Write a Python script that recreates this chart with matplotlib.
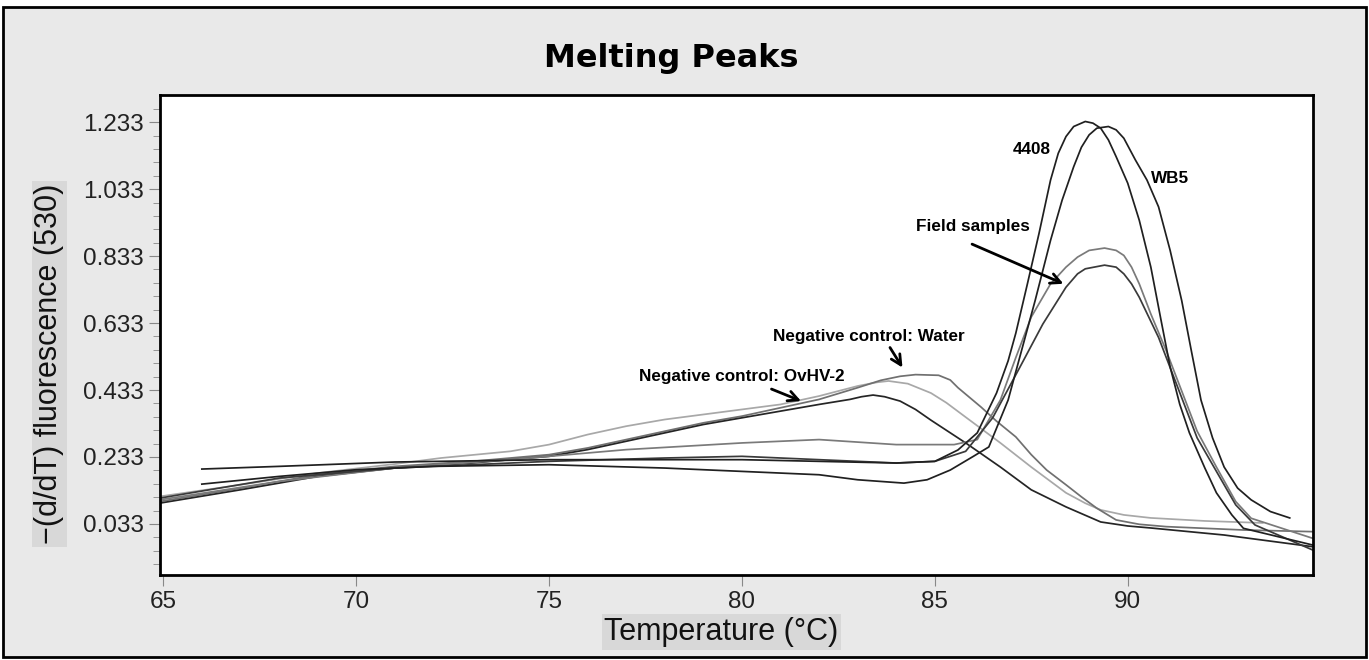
import numpy as np
import matplotlib.pyplot as plt
from matplotlib.patches import Rectangle

# melting peak curves (temperature, -(d/dT) fluorescence)
water_t = [64.9, 67, 69, 71, 73, 75, 76, 77, 78, 79, 80, 81, 82, 83, 83.6, 84.1, 84.5, 85.1, 85.4, 85.6, 86.2, 86.6, 87.1, 87.5, 87.9, 88.4, 88.8, 89.2, 89.7, 90.3, 91, 93, 94.8]
water_y = [0.10, 0.14, 0.18, 0.205, 0.22, 0.24, 0.26, 0.285, 0.31, 0.335, 0.355, 0.38, 0.405, 0.44, 0.462, 0.474, 0.479, 0.477, 0.463, 0.44, 0.382, 0.34, 0.293, 0.24, 0.194, 0.15, 0.114, 0.08, 0.045, 0.032, 0.025, 0.015, 0.01]

light_t = [64.9, 67, 69, 71, 72.2, 74, 75, 76, 77, 78, 79, 80, 81, 82, 83, 83.5, 83.8, 84.3, 84.9, 85.3, 85.8, 86.7, 87.5, 88.4, 88.9, 89.3, 89.9, 90.6, 92, 93.5]
light_y = [0.115, 0.15, 0.185, 0.212, 0.23, 0.25, 0.27, 0.30, 0.325, 0.345, 0.36, 0.375, 0.39, 0.415, 0.445, 0.456, 0.46, 0.452, 0.424, 0.395, 0.352, 0.275, 0.203, 0.126, 0.095, 0.075, 0.06, 0.051, 0.042, 0.036]

ovhv_t = [64.9, 67, 69, 71, 73, 75, 76, 77, 78, 79, 80, 81, 82, 82.8, 83.1, 83.4, 83.7, 84.1, 84.5, 84.9, 85.8, 86.7, 87.5, 88.4, 89.3, 90.0, 90.6, 92.5, 94.8]
ovhv_y = [0.095, 0.135, 0.175, 0.20, 0.215, 0.235, 0.255, 0.28, 0.305, 0.33, 0.35, 0.37, 0.39, 0.405, 0.413, 0.418, 0.413, 0.40, 0.375, 0.343, 0.275, 0.203, 0.135, 0.084, 0.039, 0.027, 0.021, 0.0, -0.035]

s4408_t = [66, 68, 71, 75, 78, 80, 82, 84, 85, 85.6, 86.1, 86.6, 86.9, 87.1, 87.4, 87.7, 88.0, 88.2, 88.4, 88.6, 88.9, 89.1, 89.3, 89.5, 89.7, 90.0, 90.3, 90.6, 90.85, 91.1, 91.35, 91.6, 92.0, 92.3, 92.7, 93.0, 94.8]
s4408_y = [0.197, 0.205, 0.218, 0.225, 0.225, 0.225, 0.22, 0.215, 0.22, 0.254, 0.305, 0.424, 0.52, 0.603, 0.75, 0.90, 1.06, 1.14, 1.19, 1.22, 1.235, 1.23, 1.215, 1.18, 1.13, 1.051, 0.94, 0.80, 0.65, 0.502, 0.39, 0.305, 0.20, 0.126, 0.06, 0.02, -0.03]

wb5_t = [66, 68, 70, 72, 75, 78, 80, 82, 83, 84.2, 84.8, 85.4, 86.0, 86.4, 86.9, 87.6, 88.0, 88.3, 88.6, 88.8, 89.0, 89.2, 89.5, 89.7, 89.9, 90.2, 90.5, 90.8, 91.1, 91.4, 91.65, 91.9, 92.2, 92.5, 92.85, 93.2, 93.7, 94.2]
wb5_y = [0.152, 0.175, 0.195, 0.205, 0.21, 0.20, 0.19, 0.18, 0.165, 0.155, 0.165, 0.194, 0.235, 0.263, 0.403, 0.70, 0.88, 1.0, 1.10, 1.158, 1.195, 1.215, 1.22, 1.21, 1.185, 1.12, 1.06, 0.98, 0.85, 0.70, 0.55, 0.403, 0.29, 0.203, 0.14, 0.105, 0.07, 0.051]

fs1_t = [64.9, 68, 71, 74, 77, 80, 82, 84, 85.5, 86.1, 86.7, 87.1, 87.5, 88.0, 88.4, 88.7, 89.0, 89.4, 89.7, 89.9, 90.1, 90.3, 90.6, 91.0, 91.4, 91.8, 92.3, 92.8, 93.2, 94.8]
fs1_y = [0.105, 0.16, 0.20, 0.225, 0.255, 0.275, 0.285, 0.27, 0.27, 0.285, 0.403, 0.53, 0.651, 0.75, 0.80, 0.83, 0.85, 0.857, 0.85, 0.835, 0.80, 0.75, 0.66, 0.55, 0.43, 0.31, 0.203, 0.10, 0.05, -0.01]

fs2_t = [64.9, 68, 71, 75, 78, 80, 82, 84, 85, 85.8, 86.5, 87.2, 87.8, 88.4, 88.7, 88.9, 89.4, 89.7, 89.9, 90.1, 90.3, 90.8, 91.4, 91.8, 92.3, 92.8, 93.3, 94.8]
fs2_y = [0.11, 0.17, 0.20, 0.22, 0.23, 0.235, 0.225, 0.215, 0.22, 0.25, 0.35, 0.50, 0.63, 0.74, 0.78, 0.795, 0.806, 0.80, 0.78, 0.75, 0.71, 0.59, 0.41, 0.29, 0.19, 0.09, 0.03, -0.045]

xticks = [65, 70, 75, 80, 85, 90]
yticks = [0.033, 0.233, 0.433, 0.633, 0.833, 1.033, 1.233]

plt.rcParams['font.family'] = ['Liberation Sans', 'DejaVu Sans']

fig = plt.figure(figsize=(13.69, 6.6), dpi=100)
fig.patch.set_facecolor('white')
fig.patches.append(Rectangle((0.002, 0.004), 0.996, 0.985, transform=fig.transFigure,
                             facecolor='#e9e9e9', edgecolor='black', lw=2, zorder=-10))

ax = fig.add_axes([0.117, 0.129, 0.842, 0.727])
ax.set_facecolor('white')

lw = 1.25
ax.plot(light_t, light_y, color='#a8a8a8', lw=lw)
ax.plot(water_t, water_y, color='#707070', lw=lw)
ax.plot(ovhv_t, ovhv_y, color='#252525', lw=lw)
ax.plot(fs1_t, fs1_y, color='#7a7a7a', lw=lw)
ax.plot(fs2_t, fs2_y, color='#3a3a3a', lw=lw)
ax.plot(s4408_t, s4408_y, color='#202020', lw=lw)
ax.plot(wb5_t, wb5_y, color='#202020', lw=lw)

ax.set_xlim(64.92, 94.8)
ax.set_ylim(-0.119, 1.314)
ax.set_xticks(xticks)
ax.set_yticks(yticks)
ax.set_yticklabels(['%.3f' % v for v in yticks])
ax.set_yticks(np.arange(-0.087, 1.31, 0.04), minor=True)
ax.tick_params(axis='both', which='major', direction='out', length=8, color='#888888',
               labelsize=17.5, labelcolor='#222222')
ax.tick_params(axis='y', which='minor', direction='out', length=5, color='#888888')
for sp in ax.spines.values():
    sp.set_linewidth(2)
    sp.set_color('black')

ax.set_xlabel('Temperature (°C)', fontsize=22, color='#111111',
              bbox=dict(facecolor='#d8d8d8', edgecolor='none', pad=2))
ax.xaxis.set_label_coords(0.487, -0.088)
ax.set_ylabel('\u2212(d/dT) fluorescence (530)', fontsize=22, color='#111111',
              bbox=dict(facecolor='#d8d8d8', edgecolor='none', pad=2))
ax.yaxis.set_label_coords(-0.083, 0.44)
fig.text(0.49, 0.912, 'Melting Peaks', fontsize=23, fontweight='bold', ha='center', va='center',
         family='DejaVu Sans')

lbl = dict(fontsize=12.3, fontweight='bold', ha='center', va='center')
ax.text(87.5, 1.15, '4408', **lbl)
ax.text(91.1, 1.066, 'WB5', **lbl)
ax.text(86.0, 0.92, 'Field samples', **lbl)
ax.text(83.3, 0.594, 'Negative control: Water', **lbl)
ax.text(80.0, 0.472, 'Negative control: OvHV-2', **lbl)
arr = dict(arrowstyle='->', color='black', lw=2, mutation_scale=18)
ax.annotate('', xy=(88.4, 0.747), xytext=(85.9, 0.872), arrowprops=arr)
ax.annotate('', xy=(84.2, 0.493), xytext=(83.8, 0.567), arrowprops=arr)
ax.annotate('', xy=(81.6, 0.397), xytext=(80.7, 0.439), arrowprops=arr)

fig.savefig('out.png', dpi=100)
